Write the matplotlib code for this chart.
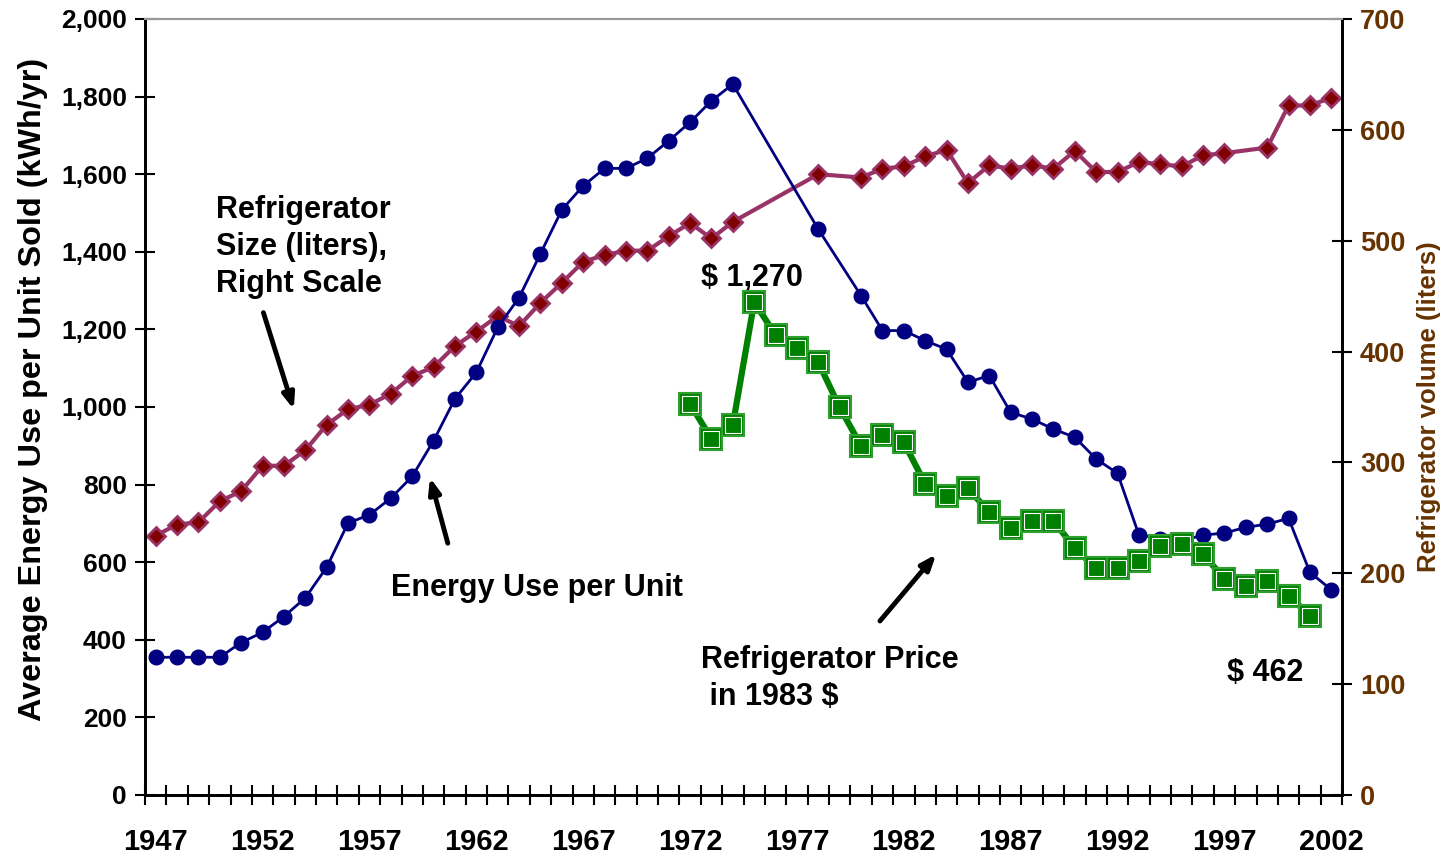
import numpy as np
import matplotlib
matplotlib.use("Agg")
import matplotlib.pyplot as plt
from matplotlib.ticker import MultipleLocator, FuncFormatter

plt.rcParams['font.family'] = ['Liberation Sans', 'DejaVu Sans']
plt.rcParams['font.weight'] = 'bold'

# Energy use per unit (kWh/yr), left scale
energy_years = list(range(1947, 1975)) + [1978] + list(range(1980, 2003))
energy_use = [355, 355, 355, 355, 393, 419, 460, 508, 587, 701,
              722, 765, 821, 913, 1021, 1089, 1205, 1282, 1395, 1508,
              1570, 1615, 1615, 1641, 1686, 1734, 1789, 1832,
              1458,
              1287, 1197, 1197, 1171, 1149, 1064, 1081, 986, 969, 943,
              922, 866, 829, 670, 661, 655, 670, 675, 690, 698,
              713, 574, 529]

# Refrigerator size (liters), right scale
size_years = list(range(1947, 1975)) + [1978] + list(range(1980, 1998)) + list(range(1999, 2003))
fridge_size = [234, 244, 246, 265, 274, 297, 297, 311, 334, 348,
               352, 362, 378, 386, 405, 418, 432, 423, 444, 462,
               481, 487, 491, 491, 504, 516, 502, 517,
               560,
               557, 565, 567, 576, 582, 552, 568, 565, 568, 565,
               581, 562, 562, 571, 569, 567, 577, 579,
               584, 622, 622, 629]

# Refrigerator price in 1983 dollars, left scale
price_years = list(range(1972, 2002))
fridge_price = [1008, 918, 954, 1270, 1186, 1151, 1115, 999, 900, 928,
                909, 802, 770, 790, 729, 687, 707, 707, 636, 584,
                584, 604, 641, 647, 621, 557, 539, 552, 514, 462]

year_labels = list(range(1947, 2003, 5))

fig = plt.figure(figsize=(14.49, 8.59), dpi=100)
ax = fig.add_axes([145 / 1449, 1 - 795 / 859, (1342 - 145) / 1449, (795 - 19) / 859])
ax2 = ax.twinx()

brown = '#663300'

# Size series on right axis (drawn below others)
ax2.plot(size_years, fridge_size, color='#993366', lw=3, marker='D', markersize=9.5,
         markerfacecolor='#800000', markeredgecolor='#993366', markeredgewidth=2, zorder=2)

# Energy use on left axis
ax.plot(energy_years, energy_use, color='#000080', lw=2, marker='o', markersize=10.5,
        markerfacecolor='#000080', markeredgecolor='#000080', zorder=3)

# Price on left axis
ax.plot(price_years, fridge_price, color='#008000', lw=4.5, marker='s', markersize=16,
        markerfacecolor='#008000', markeredgecolor='#2f9f2f', markeredgewidth=1.5, zorder=4)
ax.plot(price_years, fridge_price, ls='none', marker='s', markersize=11,
        markerfacecolor='none', markeredgecolor='white', markeredgewidth=0.8, zorder=5)

ax.set_zorder(ax2.get_zorder() + 1)
ax.patch.set_visible(False)

# Axes ranges and ticks
ax.set_xlim(1946.5, 2002.5)
ax.set_ylim(0, 2000)
ax2.set_ylim(0, 700)

ax.set_xticks(year_labels)
ax.set_xticklabels([str(y) for y in year_labels], fontsize=21, fontweight='bold')
ax.xaxis.set_minor_locator(MultipleLocator(1, offset=0.5))
ax.tick_params(axis='x', which='major', length=0, pad=24)
ax.tick_params(axis='x', which='minor', direction='inout', length=14, width=1.5)

ax.yaxis.set_major_locator(MultipleLocator(200))
ax.yaxis.set_major_formatter(FuncFormatter(lambda v, p: f"{int(v):,}"))
ax.tick_params(axis='y', direction='inout', length=14, width=1.5, labelsize=19, pad=6)
for lab in ax.get_yticklabels():
    lab.set_fontweight('bold')

ax2.yaxis.set_major_locator(MultipleLocator(100))
ax2.tick_params(axis='y', direction='inout', length=14, width=1.5, labelsize=19.5,
                labelcolor=brown, pad=6)
for lab in ax2.get_yticklabels():
    lab.set_fontweight('bold')

for a in (ax, ax2):
    a.spines['left'].set_linewidth(2)
    a.spines['right'].set_linewidth(2)
    a.spines['bottom'].set_linewidth(2)
    a.spines['top'].set_color('#999999')
    a.spines['top'].set_linewidth(1.5)

ax.set_ylabel('Average Energy Use per Unit Sold (kWh/yr)', fontsize=23.3,
              fontweight='bold')
ax.yaxis.set_label_coords(-0.081, 0.523)
ax2.set_ylabel('Refrigerator volume (liters)', fontsize=18.5, fontweight='bold',
               color=brown, labelpad=8)

# Annotations
arrow = dict(arrowstyle='-|>,head_length=0.9,head_width=0.35', color='black', lw=3.5)
ax.text(1949.8, 1412, 'Refrigerator\nSize (liters),\nRight Scale', fontsize=22,
        fontweight='bold', linespacing=1.3, va='center', ha='left')
ax.annotate('', xy=(1953.5, 987), xytext=(1952.0, 1250), arrowprops=arrow)
ax.text(1958.0, 533, 'Energy Use per Unit', fontsize=22, fontweight='bold',
        va='center', ha='left')
ax.annotate('', xy=(1959.8, 825), xytext=(1960.7, 642), arrowprops=arrow)
ax.text(1972.5, 1332, '$ 1,270', fontsize=22, fontweight='bold', va='center', ha='left')
ax.text(1972.5, 301, 'Refrigerator Price\n in 1983 $', fontsize=22, fontweight='bold',
        linespacing=1.3, va='center', ha='left')
ax.annotate('', xy=(1983.6, 626), xytext=(1980.8, 443), arrowprops=arrow)
ax.text(1997.1, 314, '$ 462', fontsize=22, fontweight='bold', va='center', ha='left')

fig.savefig('out.png', dpi=100)
